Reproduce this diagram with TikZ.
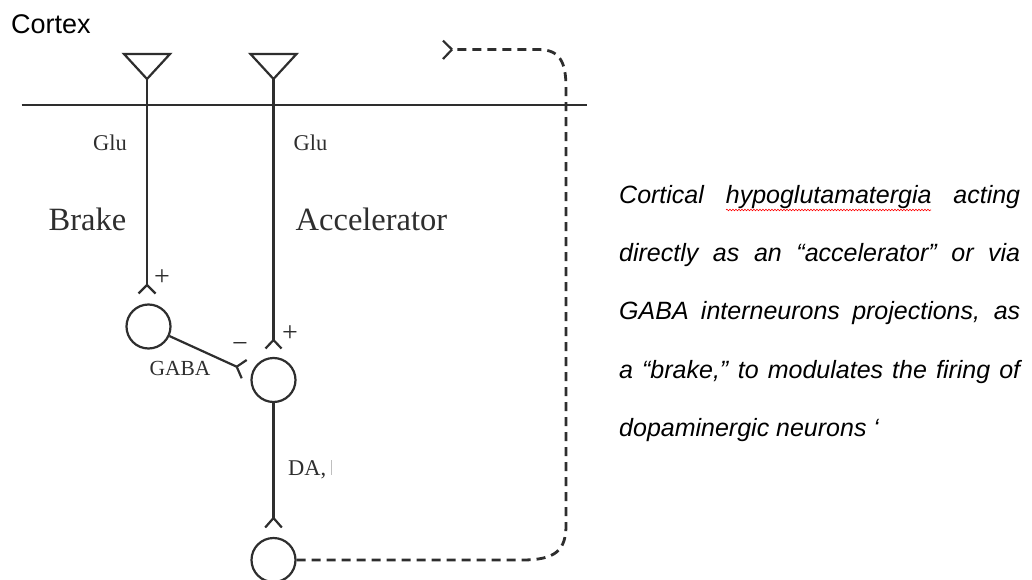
\documentclass[tikz,border=0pt]{standalone}
\usepackage{fontspec}
\setmainfont{Liberation Serif}
\newfontfamily\arialf{Liberation Sans}
\usetikzlibrary{decorations.pathmorphing}
\definecolor{dg}{HTML}{2E2E2E}
\begin{document}
\begin{tikzpicture}[x=1pt,y=-1pt,
  ln/.style={draw=dg, line width=2.2pt},
  dashline/.style={draw=dg, line width=2.8pt, dash pattern=on 9pt off 6pt},
  neuron/.style={circle, draw=dg, line width=2.2pt, minimum size=44pt, inner sep=0pt},
  lbl/.style={inner sep=0pt, anchor=base west, text=dg, font=\fontsize{22.5}{27}\selectfont},
  big/.style={inner sep=0pt, anchor=base west, text=dg, font=\fontsize{32.5}{38}\selectfont},
  sgn/.style={inner sep=0pt, text=dg, font=\fontsize{28}{32}\selectfont},
  para/.style={inner sep=0pt, anchor=base west, font=\arialf\itshape\fontsize{25}{30}\selectfont}]
\useasboundingbox[fill=white] (0,0) rectangle (1032,580);
\clip (0,0) rectangle (1032,580);

% title
\node[inner sep=0pt, anchor=base west, font=\arialf\fontsize{27}{32}\selectfont] (cortex) at (11,33.5) {Cortex};

% cortical layer line
\draw[draw=dg, line width=2.8pt] (21.5,105) -- (587,105);

% pyramidal cells (triangles)
\coordinate (t1) at (147,79);
\coordinate (t2) at (273.5,79);
\draw[ln, line join=miter] (124,54) -- (170,54) -- (t1) -- cycle;
\draw[ln, line join=miter] (250.5,54) -- (296.5,54) -- (t2) -- cycle;

% neurons
\node[neuron] (c1) at (148.5,326.5) {};
\node[neuron] (c2) at (273.5,380) {};
\node[neuron] (c3) at (273.5,560) {};

% synapse fork points
\coordinate (f1) at (147,285);
\coordinate (f2) at (273.5,340);
\coordinate (f3) at (273.5,518);
\coordinate (fg) at (236.7,366.7);
\coordinate (ft) at (452,49.5);

% connectors
\draw[ln] (t1) -- (f1);
\draw[ln] (f1) -- ++(-8.5,8.5) (f1) -- ++(8.5,8.5);
\draw[ln] (t2) -- (f2);
\draw[ln] (f2) -- ++(-8,8.5) (f2) -- ++(8,8.5);
\draw[ln] (c1) -- (fg);
\draw[ln] (fg) -- ++(10,-6.7) (fg) -- ++(5,11.6);
\draw[ln] (c2) -- (f3);
\draw[ln] (f3) -- ++(-8.3,9.5) (f3) -- ++(8.3,9.5);

% dashed feedback loop
\draw[dashline] (c3.east) -- (522,560) .. controls (556,560) and (566,550) .. (566,525)
  -- (566,88) .. controls (566,62) and (560,49.5) .. (538,49.5) -- (ft);
\draw[ln] (ft) -- ++(-9,-8.8) (ft) -- ++(-9,9.5);

% labels
\node[lbl] (glu1) at (93,150) {Glu};
\node[lbl] (glu2) at (293.5,150) {Glu};
\node[big] (brake) at (48.5,230) {Brake};
\node[big] (acc) at (295.5,230) {Accelerator};
\node[lbl, font=\fontsize{21.5}{26}\selectfont] (gaba) at (149.3,375) {GABA};
\node[lbl] (da) at (288,475) {DA,};
\draw[draw=black!25, line width=0.9pt] (331.7,460) -- (331.7,475);
\node[sgn] (p1) at (162,277.5) {+};
\node[sgn] (p2) at (290,333.5) {+};
\node[sgn] (m1) at (240,347) {−};

% explanatory text
\node[para] (l1) at (619,203.5) {\makebox[401pt][s]{Cortical hypoglutamatergia acting}};
\node[para] (l2) at (619,261.7) {\makebox[401pt][s]{directly as an “accelerator” or via}};
\node[para] (l3) at (619,319.9) {\makebox[401pt][s]{GABA interneurons projections, as}};
\node[para] (l4) at (619,378.1) {\makebox[401pt][s]{a “brake,” to modulates the firing of}};
\node[para] (l5) at (619,436.3) {dopaminergic neurons ‘};
\draw[red, line width=0.6pt, decorate, decoration={snake, amplitude=0.8pt, segment length=3pt}] (726,210) -- (931,210);
\end{tikzpicture}
\end{document}
